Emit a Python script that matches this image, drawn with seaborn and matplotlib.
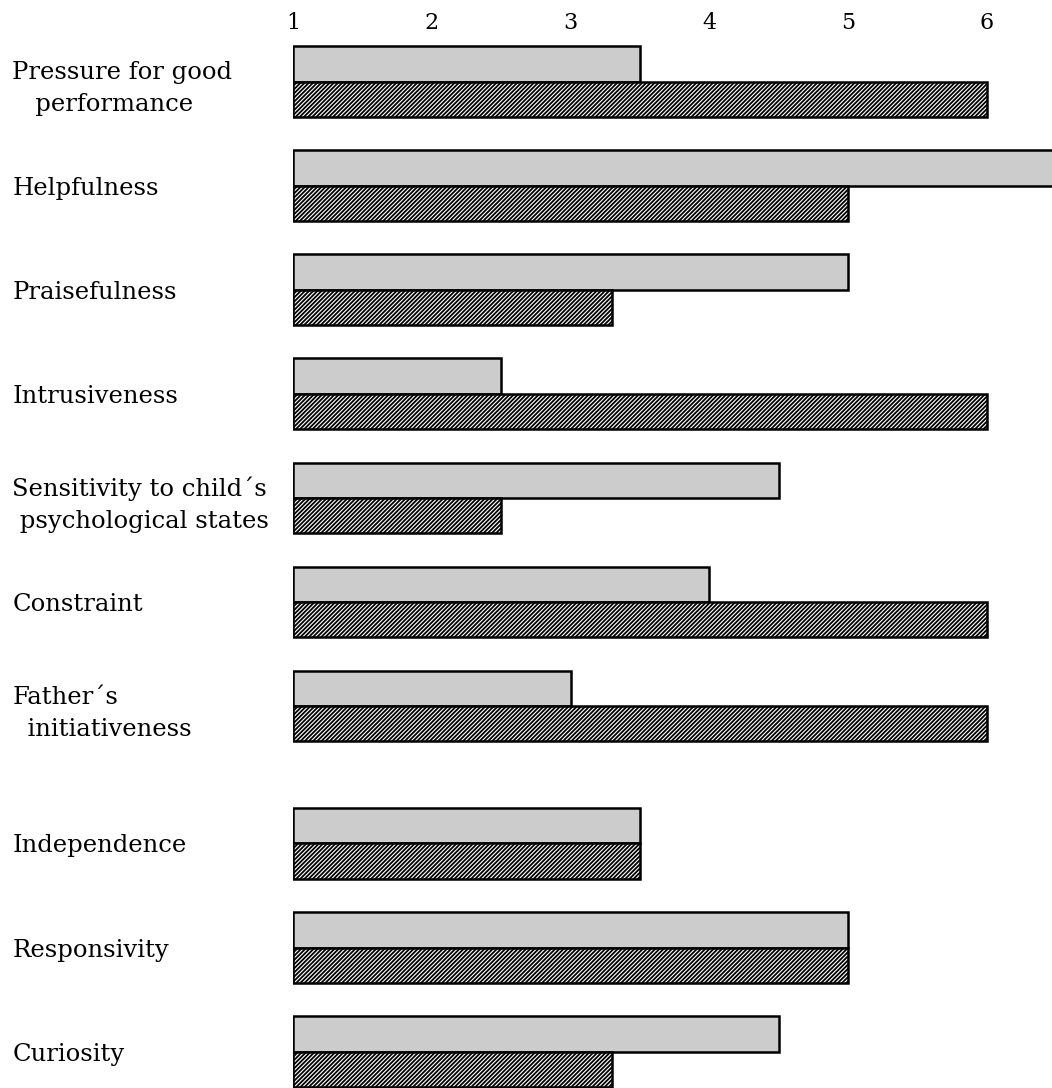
import matplotlib

matplotlib.use("Agg")

import matplotlib.pyplot as plt
import numpy as np
import pandas as pd
import seaborn as sns

categories = [
    "Pressure for good\n   performance",
    "Helpfulness",
    "Praisefulness",
    "Intrusiveness",
    "Sensitivity to child\u00b4s\n psychological states",
    "Constraint",
    "Father\u00b4s\n  initiativeness",
    "Independence",
    "Responsivity",
    "Curiosity",
]
light_values = [3.5, 6.5, 5.0, 2.5, 4.5, 4.0, 3.0, 3.5, 5.0, 4.5]
dark_values = [6.0, 5.0, 3.3, 6.0, 2.5, 6.0, 6.0, 3.5, 5.0, 3.3]
series = ["light", "dark"]
x_ticks = [1, 2, 3, 4, 5, 6]

# the last three scales sit in a separate block
n = len(categories)
pos = np.arange(n) + np.where(np.arange(n) >= 7, 0.32, 0.0)

df = pd.DataFrame(
    {
        "pos": np.concatenate([pos, pos]),
        "score": light_values + dark_values,
        "series": [series[0]] * n + [series[1]] * n,
    }
)

sns.set_style("white")
plt.rcParams["font.family"] = ["DejaVu Serif"]
plt.rcParams["hatch.linewidth"] = 1.3
plt.rcParams["text.color"] = "black"
plt.rcParams["xtick.color"] = "black"
plt.rcParams["ytick.color"] = "black"

fig = plt.figure(figsize=(10.52, 10.88), dpi=100)
ax = fig.add_axes([293 / 1052, 0, 1 - 293 / 1052, 1048 / 1088])

sns.barplot(
    data=df,
    x="score",
    y="pos",
    hue="series",
    hue_order=series,
    orient="y",
    native_scale=True,
    width=0.68,
    errorbar=None,
    legend=False,
    palette=["#cccccc", "white"],
    edgecolor="black",
    linewidth=1.8,
    ax=ax,
)

# bars start at the scale origin 1
for cont, hatch in zip(ax.containers, [None, "////////"]):
    for bar in cont:
        w = bar.get_width()
        bar.set_x(1)
        bar.set_width(w - 1)
        if hatch:
            bar.set_hatch(hatch)

ax.set_xlim(1, 6.47)
ax.set_ylim(9.67, -0.40)
ax.set_xticks(x_ticks)
ax.set_xticklabels([str(t) for t in x_ticks])
ax.xaxis.tick_top()
ax.set_yticks(pos)
ax.set_yticklabels(categories)
ax.tick_params(axis="x", length=0, labelsize=16, pad=4)
ax.tick_params(axis="y", length=0, labelsize=17.5, pad=202)
for lab in ax.get_yticklabels():
    lab.set_horizontalalignment("left")
    lab.set_linespacing(1.5)
ax.set_xlabel("")
ax.set_ylabel("")
sns.despine(ax=ax, left=True, bottom=True)

fig.savefig("out.png", dpi=100)
